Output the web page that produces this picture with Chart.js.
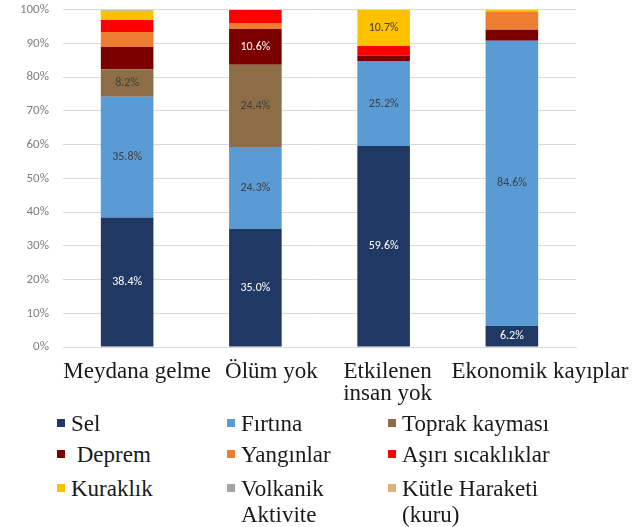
<!DOCTYPE html>
<html>
<head>
<meta charset="utf-8">
<script src="https://cdn.jsdelivr.net/npm/chart.js@4.4.1/dist/chart.umd.min.js"></script>
<style>
  body { margin: 0; background: #fff; width: 632px; height: 527px; overflow: hidden; position: relative; }
  #wrap { position: absolute; left: 0; top: -12px; width: 632px; height: 427px; }
  #legend { position: absolute; left: 0; top: 0; font-family: "Liberation Serif", serif; font-size: 23px; color: #1a1a1a; }
  .item { position: absolute; white-space: pre; line-height: 26px; }
  .item .box { position: absolute; width: 8px; height: 8px; }
</style>
</head>
<body>
<div id="wrap"><canvas id="myChart"></canvas></div>
<div id="legend"></div>
<script>
const categories = [["Meydana gelme"], ["Ölüm yok"], ["Etkilenen", "insan yok"], ["Ekonomik kayıplar"]];
const seriesNames = ["Sel", "Fırtına", "Toprak kayması", " Deprem", "Yangınlar", "Aşırı sıcaklıklar", "Kuraklık", "Volkanik\nAktivite", "Kütle Haraketi\n(kuru)"];
const colors = ['#203864', '#5B9BD5', '#8C6D46', '#7A0000', '#ED7D31', '#FF0000', '#FFC000', '#A5A5A5', '#DDB27A'];

const sel = [38.4, 35.0, 59.6, 6.2];
const firtina = [35.8, 24.3, 25.2, 84.6];
const toprak = [8.2, 24.4, 0, 0];
const deprem = [6.6, 10.6, 1.6, 3.3];
const yanginlar = [4.4, 1.8, 0, 5.4];
const asiri = [3.6, 3.9, 2.9, 0];
const kuraklik = [2.4, 0, 10.7, 0.5];
const volkanik = [0.3, 0, 0, 0];
const kutle = [0.3, 0, 0, 0];
const yTicks = [0, 10, 20, 30, 40, 50, 60, 70, 80, 90, 100];

// which segments carry a value label: [series, category]
const labelled = [[0, 0], [0, 1], [0, 2], [0, 3], [1, 0], [1, 1], [1, 2], [1, 3], [2, 0], [2, 1], [3, 1], [6, 2]];
const whiteLabels = [0, 3];

const allSeries = [sel, firtina, toprak, deprem, yanginlar, asiri, kuraklik, volkanik, kutle];

// category labels are drawn by hand, nudged right like in the source picture
const labelShift = [10, 16, 4, 28];

const segmentLabels = {
  id: 'segmentLabels',
  afterDatasetsDraw(chart) {
    const ctx = chart.ctx;
    ctx.save();
    ctx.font = '12px Carlito, "Liberation Sans", sans-serif';
    ctx.textAlign = 'center';
    ctx.textBaseline = 'middle';
    labelled.forEach(([d, i]) => {
      const bar = chart.getDatasetMeta(d).data[i];
      ctx.fillStyle = whiteLabels.includes(d) ? '#ffffff' : '#404040';
      ctx.fillText(allSeries[d][i].toFixed(1) + '%', bar.x, (bar.y + bar.base) / 2);
    });
    // x category labels
    const xs = chart.scales.x;
    ctx.font = '23px "Liberation Serif", serif';
    ctx.fillStyle = '#1a1a1a';
    ctx.textBaseline = 'alphabetic';
    categories.forEach((lines, i) => {
      const cx = xs.getPixelForValue(i) + labelShift[i];
      lines.forEach((t, j) => ctx.fillText(t, cx, chart.chartArea.bottom + 31 + j * 22));
    });
    ctx.restore();
  }
};

new Chart("myChart", {
  type: "bar",
  data: {
    labels: categories,
    datasets: allSeries.map((s, k) => ({
      label: seriesNames[k],
      data: s,
      backgroundColor: colors[k],
      barPercentage: 0.41,
      categoryPercentage: 1.0
    }))
  },
  options: {
    responsive: true,
    maintainAspectRatio: false,
    animation: false,
    layout: { padding: { left: 13, right: 56, top: 0, bottom: 60 } },
    scales: {
      x: {
        stacked: true,
        grid: { display: false },
        border: { color: '#D9D9D9' },
        ticks: { display: false }
      },
      y: {
        stacked: true,
        min: 0,
        max: 100,
        afterBuildTicks(axis) { axis.ticks = yTicks.map(v => ({ value: v })); },
        afterFit(axis) { axis.width = 50; },
        grid: { color: '#D9D9D9', drawTicks: false },
        border: { display: false },
        ticks: { color: '#7F7F7F', font: { family: 'Carlito, "Liberation Sans", sans-serif', size: 13 }, padding: 14, callback: v => v + '%' }
      }
    },
    plugins: {
      legend: { display: false },
      tooltip: { enabled: false }
    }
  },
  plugins: [segmentLabels]
});

// legend below the chart, 3 columns x 3 rows
const legendEl = document.getElementById('legend');
const colX = [57, 227, 388];
const rowY = [411, 442, 476];
seriesNames.forEach((name, k) => {
  const c = k % 3, r = Math.floor(k / 3);
  const item = document.createElement('div');
  item.className = 'item';
  item.style.left = (colX[c] + 14) + 'px';
  item.style.top = rowY[r] + 'px';
  item.textContent = name;
  const box = document.createElement('div');
  box.className = 'box';
  box.style.background = colors[k];
  box.style.left = '-14px';
  box.style.top = '8px';
  item.appendChild(box);
  legendEl.appendChild(item);
});
</script>
</body>
</html>
